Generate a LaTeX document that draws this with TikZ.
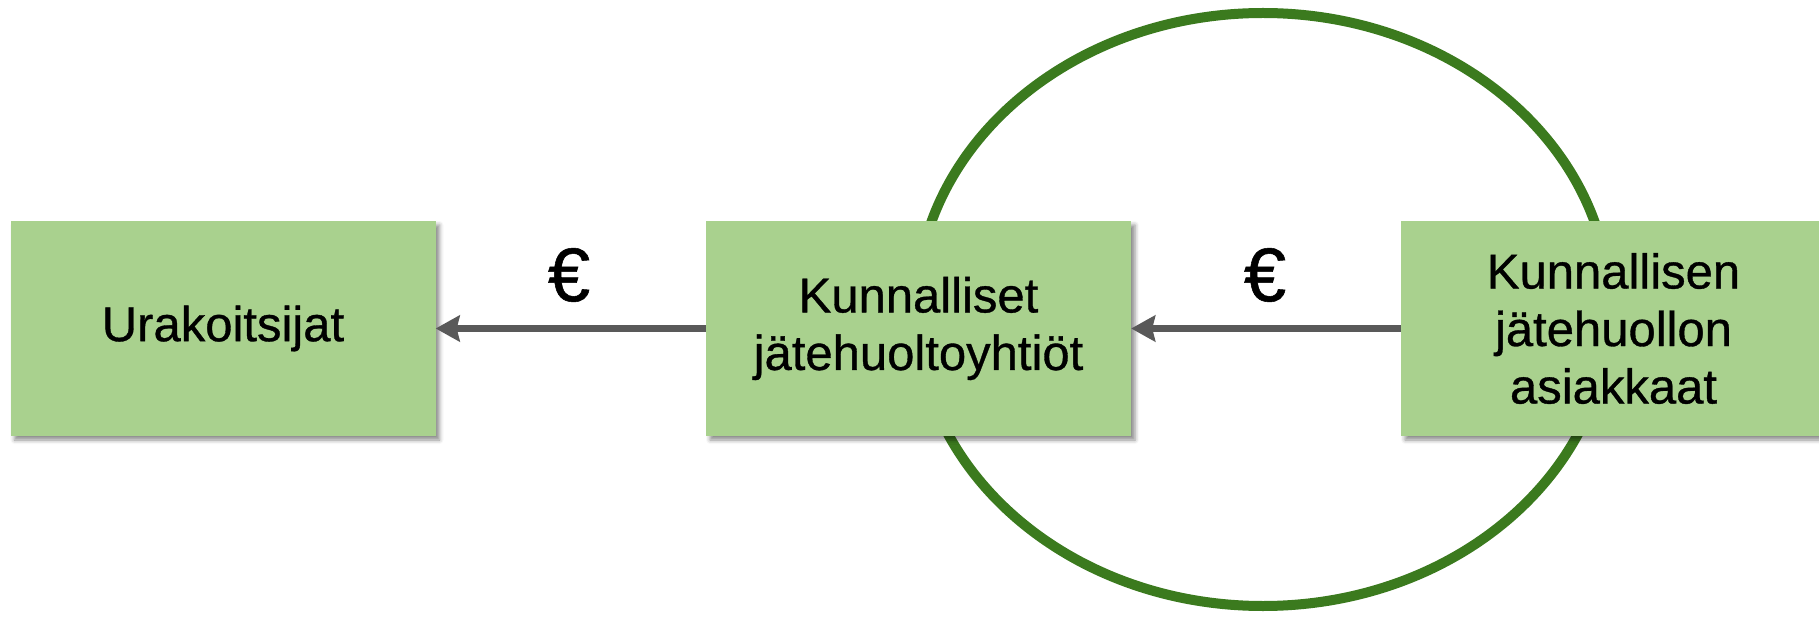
\documentclass[tikz,border=0pt]{standalone}
\usepackage{fontspec}
\setmainfont{Liberation Sans}
\newfontfamily\medfont[FakeBold=0.7]{Liberation Sans}
\usetikzlibrary{arrows.meta,shadows.blur}
\definecolor{boxgreen}{HTML}{A9D18E}
\definecolor{ringgreen}{HTML}{3B7A1E}
\definecolor{arrowgray}{HTML}{595959}
\tikzset{
  gbox/.style={rectangle, fill=boxgreen, minimum width=425pt, minimum height=215pt,
    inner sep=0pt, align=center, font=\medfont\fontsize{49}{57.5}\selectfont,
    blur shadow={shadow xshift=4pt, shadow yshift=-4pt, shadow blur radius=4pt, shadow opacity=45}},
  flow/.style={draw=arrowgray, line width=6pt, -{Stealth[length=24pt,width=26pt,inset=3pt]}},
  euro/.style={font=\medfont\fontsize{76}{80}\selectfont},
  ring/.style={draw=ringgreen, line width=10pt}
}
\begin{document}
\begin{tikzpicture}[x=1pt,y=-1pt]
\useasboundingbox (0,0) rectangle (1819,617);
\clip (0,0) rectangle (1819,617);
\path[ring] (1263,309.5) ellipse [x radius=347, y radius=296.5];
\node[gbox] (b1) at (223,328.5) {Urakoitsijat};
\node[gbox] (b2) at (918.5,328.5) {Kunnalliset\\jätehuoltoyhtiöt};
\node[gbox] (b3) at (1613.5,328.5) {Kunnallisen\\jätehuollon\\asiakkaat};
\draw[flow] (b2.west) -- (b1.east);
\draw[flow] (b3.west) -- (b2.east);
\node[euro] (e1) at (569,275) {€};
\node[euro] (e2) at (1265,275) {€};
\end{tikzpicture}
\end{document}
